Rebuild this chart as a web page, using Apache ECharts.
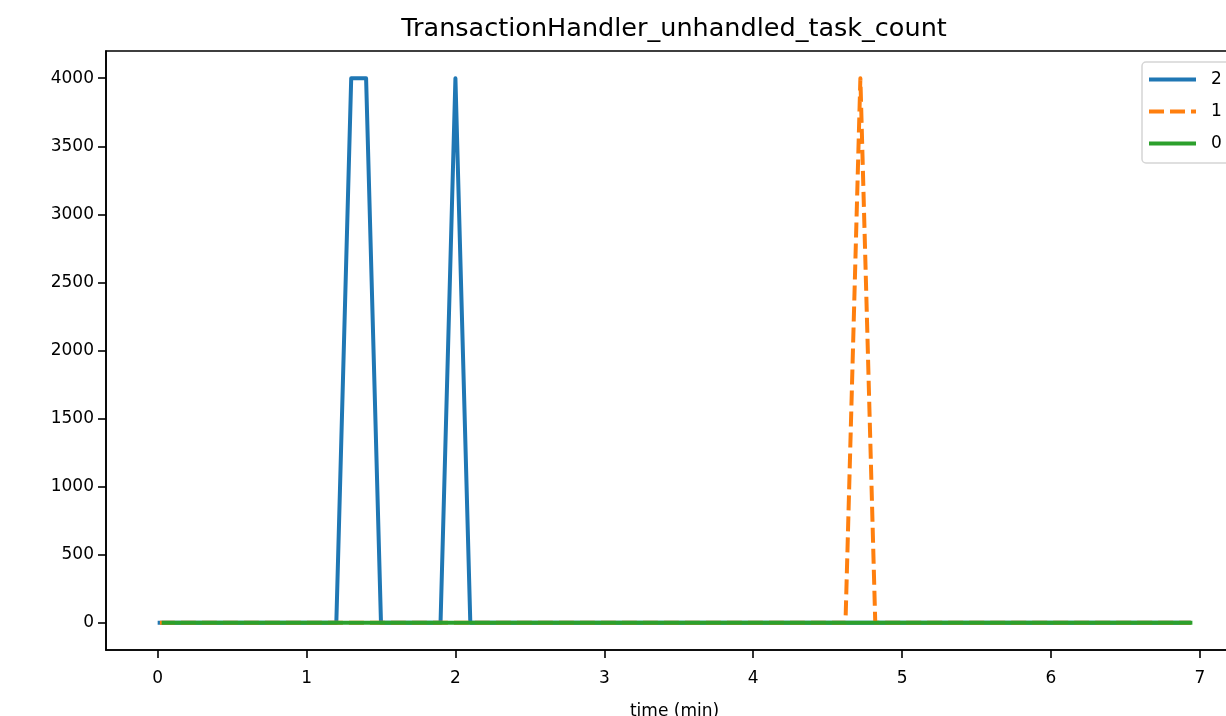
<!DOCTYPE html>
<html lang="en">
<head>
    <meta charset="UTF-8">
    <title>TransactionHandler_unhandled_task_count</title>
    <script src="https://cdnjs.cloudflare.com/ajax/libs/echarts/6.0.0/echarts.min.js"></script>
    <style>
        body { margin: 0; background: #fff; }
        #main { width: 1226px; height: 716px; }
    </style>
</head>
<body>
<div id="main"></div>
<script>
    // time (min) / value pairs, only the turning points
    var time2 = [0, 1.2, 1.3, 1.4, 1.5, 1.9, 2.0, 2.1, 6.94];
    var value2 = [0, 0, 4000, 4000, 0, 0, 4000, 0, 0];
    var time1 = [0.015, 4.62, 4.72, 4.82, 6.94];
    var value1 = [0, 0, 4000, 0, 0];
    var time0 = [0.027, 6.95];
    var value0 = [0, 0];

    var xTicks = [0, 1, 2, 3, 4, 5, 6, 7];
    var yTicks = [0, 500, 1000, 1500, 2000, 2500, 3000, 3500, 4000];

    function pairs(xs, ys) {
        return xs.map((x, i) => [x, ys[i]]);
    }

    var chart = echarts.init(document.getElementById('main'));
    var font = 'DejaVu Sans';

    var option = {
        animation: false,
        title: {
            text: 'TransactionHandler_unhandled_task_count',
            left: 669,
            top: 11,
            textAlign: 'center',
            textStyle: { fontFamily: font, fontSize: 25.5, fontWeight: 'normal', color: '#000' }
        },
        legend: {
            orient: 'vertical',
            left: 1142,
            top: 62,
            padding: [9, 10, 11, 5],
            itemWidth: 47,
            itemHeight: 16,
            itemGap: 15,
            itemStyle: { opacity: 0 },
            lineStyle: { width: 4 },
            backgroundColor: '#fff',
            borderColor: '#d5d5d5',
            borderWidth: 1.5,
            borderRadius: 4,
            textStyle: { fontFamily: font, fontSize: 17, color: '#000', padding: [0, 0, 0, 10] },
            data: ['2', '1', '0']
        },
        grid: {
            left: 106,
            top: 51,
            width: 1137,
            height: 599,
            show: true,
            borderColor: '#000',
            borderWidth: 1.6,
            containLabel: false,
            outerBoundsMode: 'none'
        },
        xAxis: {
            type: 'value',
            min: -0.347,
            max: 7.29,
            name: 'time (min)',
            nameLocation: 'middle',
            nameGap: 53,
            nameTextStyle: { fontFamily: font, fontSize: 17, color: '#000' },
            axisLine: { show: true, onZero: false, lineStyle: { color: '#000', width: 1.6 } },
            axisTick: { show: true, length: 8, customValues: xTicks, lineStyle: { color: '#000', width: 1.6 } },
            axisLabel: { customValues: xTicks, margin: 20, fontFamily: font, fontSize: 17, color: '#000' },
            splitLine: { show: false }
        },
        yAxis: {
            type: 'value',
            min: -200,
            max: 4200,
            axisLine: { show: true, onZero: false, lineStyle: { color: '#000', width: 1.6 } },
            axisTick: { show: true, length: 8, customValues: yTicks, lineStyle: { color: '#000', width: 1.6 } },
            axisLabel: {
                customValues: yTicks, margin: 12, fontFamily: font, fontSize: 17, color: '#000',
                formatter: (v) => String(v)
            },
            splitLine: { show: false }
        },
        series: [
            {
                name: '2',
                type: 'line',
                data: pairs(time2, value2),
                showSymbol: false,
                symbol: 'none',
                color: '#1f77b4',
                lineStyle: { width: 4, color: '#1f77b4', join: 'round' }
            },
            {
                name: '1',
                type: 'line',
                data: pairs(time1, value1),
                showSymbol: false,
                symbol: 'none',
                color: '#ff7f0e',
                lineStyle: { width: 4, color: '#ff7f0e', type: [15, 6], join: 'round' }
            },
            {
                name: '0',
                type: 'line',
                data: pairs(time0, value0),
                showSymbol: false,
                symbol: 'none',
                color: '#2ca02c',
                lineStyle: { width: 4, color: '#2ca02c', join: 'round' }
            }
        ]
    };

    chart.setOption(option);
</script>
</body>
</html>
